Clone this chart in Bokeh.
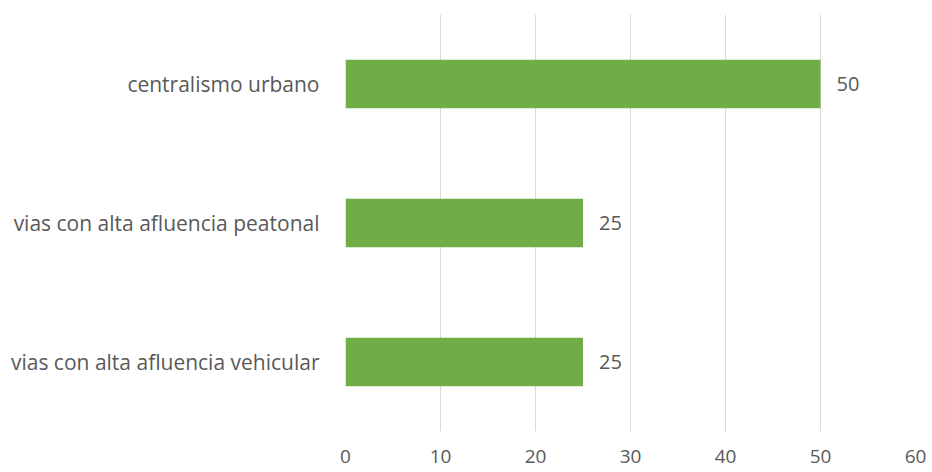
from bokeh.plotting import figure
from bokeh.models import ColumnDataSource, FixedTicker, Range1d, FactorRange
from bokeh.embed import file_html
from bokeh.resources import INLINE
from bokeh.core.properties import value

categories = ["vias con alta afluencia vehicular", "vias con alta afluencia peatonal", "centralismo urbano"]
values = [25, 25, 50]
x_ticks = [0, 10, 20, 30, 40, 50, 60]

src = ColumnDataSource(dict(cat=categories, val=values, lab=[str(v) for v in values]))

FONT = "Open Sans"
TXT = "#595959"

p = figure(width=932, height=472, output_backend="svg", toolbar_location=None,
           y_range=FactorRange(factors=categories, range_padding=0),
           x_range=Range1d(0, 60),
           min_border_left=345, min_border_right=17, min_border_top=14, min_border_bottom=41)
p.outline_line_color = None
p.background_fill_color = "white"
p.border_fill_color = "white"

p.hbar(y="cat", right="val", left=0, height=0.35, source=src, color="#70AD47", line_color=None)
p.text(x="val", y="cat", text="lab", source=src, x_offset=16, text_baseline="middle",
       text_align="left", text_font=value(FONT), text_font_size="20px", text_color=TXT)

p.xaxis.ticker = FixedTicker(ticks=x_ticks)
p.xaxis.axis_line_color = None
p.xaxis.major_tick_line_color = None
p.xaxis.minor_tick_line_color = None
p.xaxis.major_label_standoff = 12
p.xaxis.major_label_text_font = FONT
p.xaxis.major_label_text_font_size = "19px"
p.xaxis.major_label_text_color = TXT

p.yaxis.axis_line_color = None
p.yaxis.major_tick_line_color = None
p.yaxis.minor_tick_line_color = None
p.yaxis.major_label_standoff = 20
p.yaxis.major_label_text_font = FONT
p.yaxis.major_label_text_font_size = "21px"
p.yaxis.major_label_text_color = TXT

p.xgrid.grid_line_color = "#D9D9D9"
p.xgrid.grid_line_width = 1
p.ygrid.grid_line_color = None

open("out.html", "w").write(file_html(p, INLINE))
